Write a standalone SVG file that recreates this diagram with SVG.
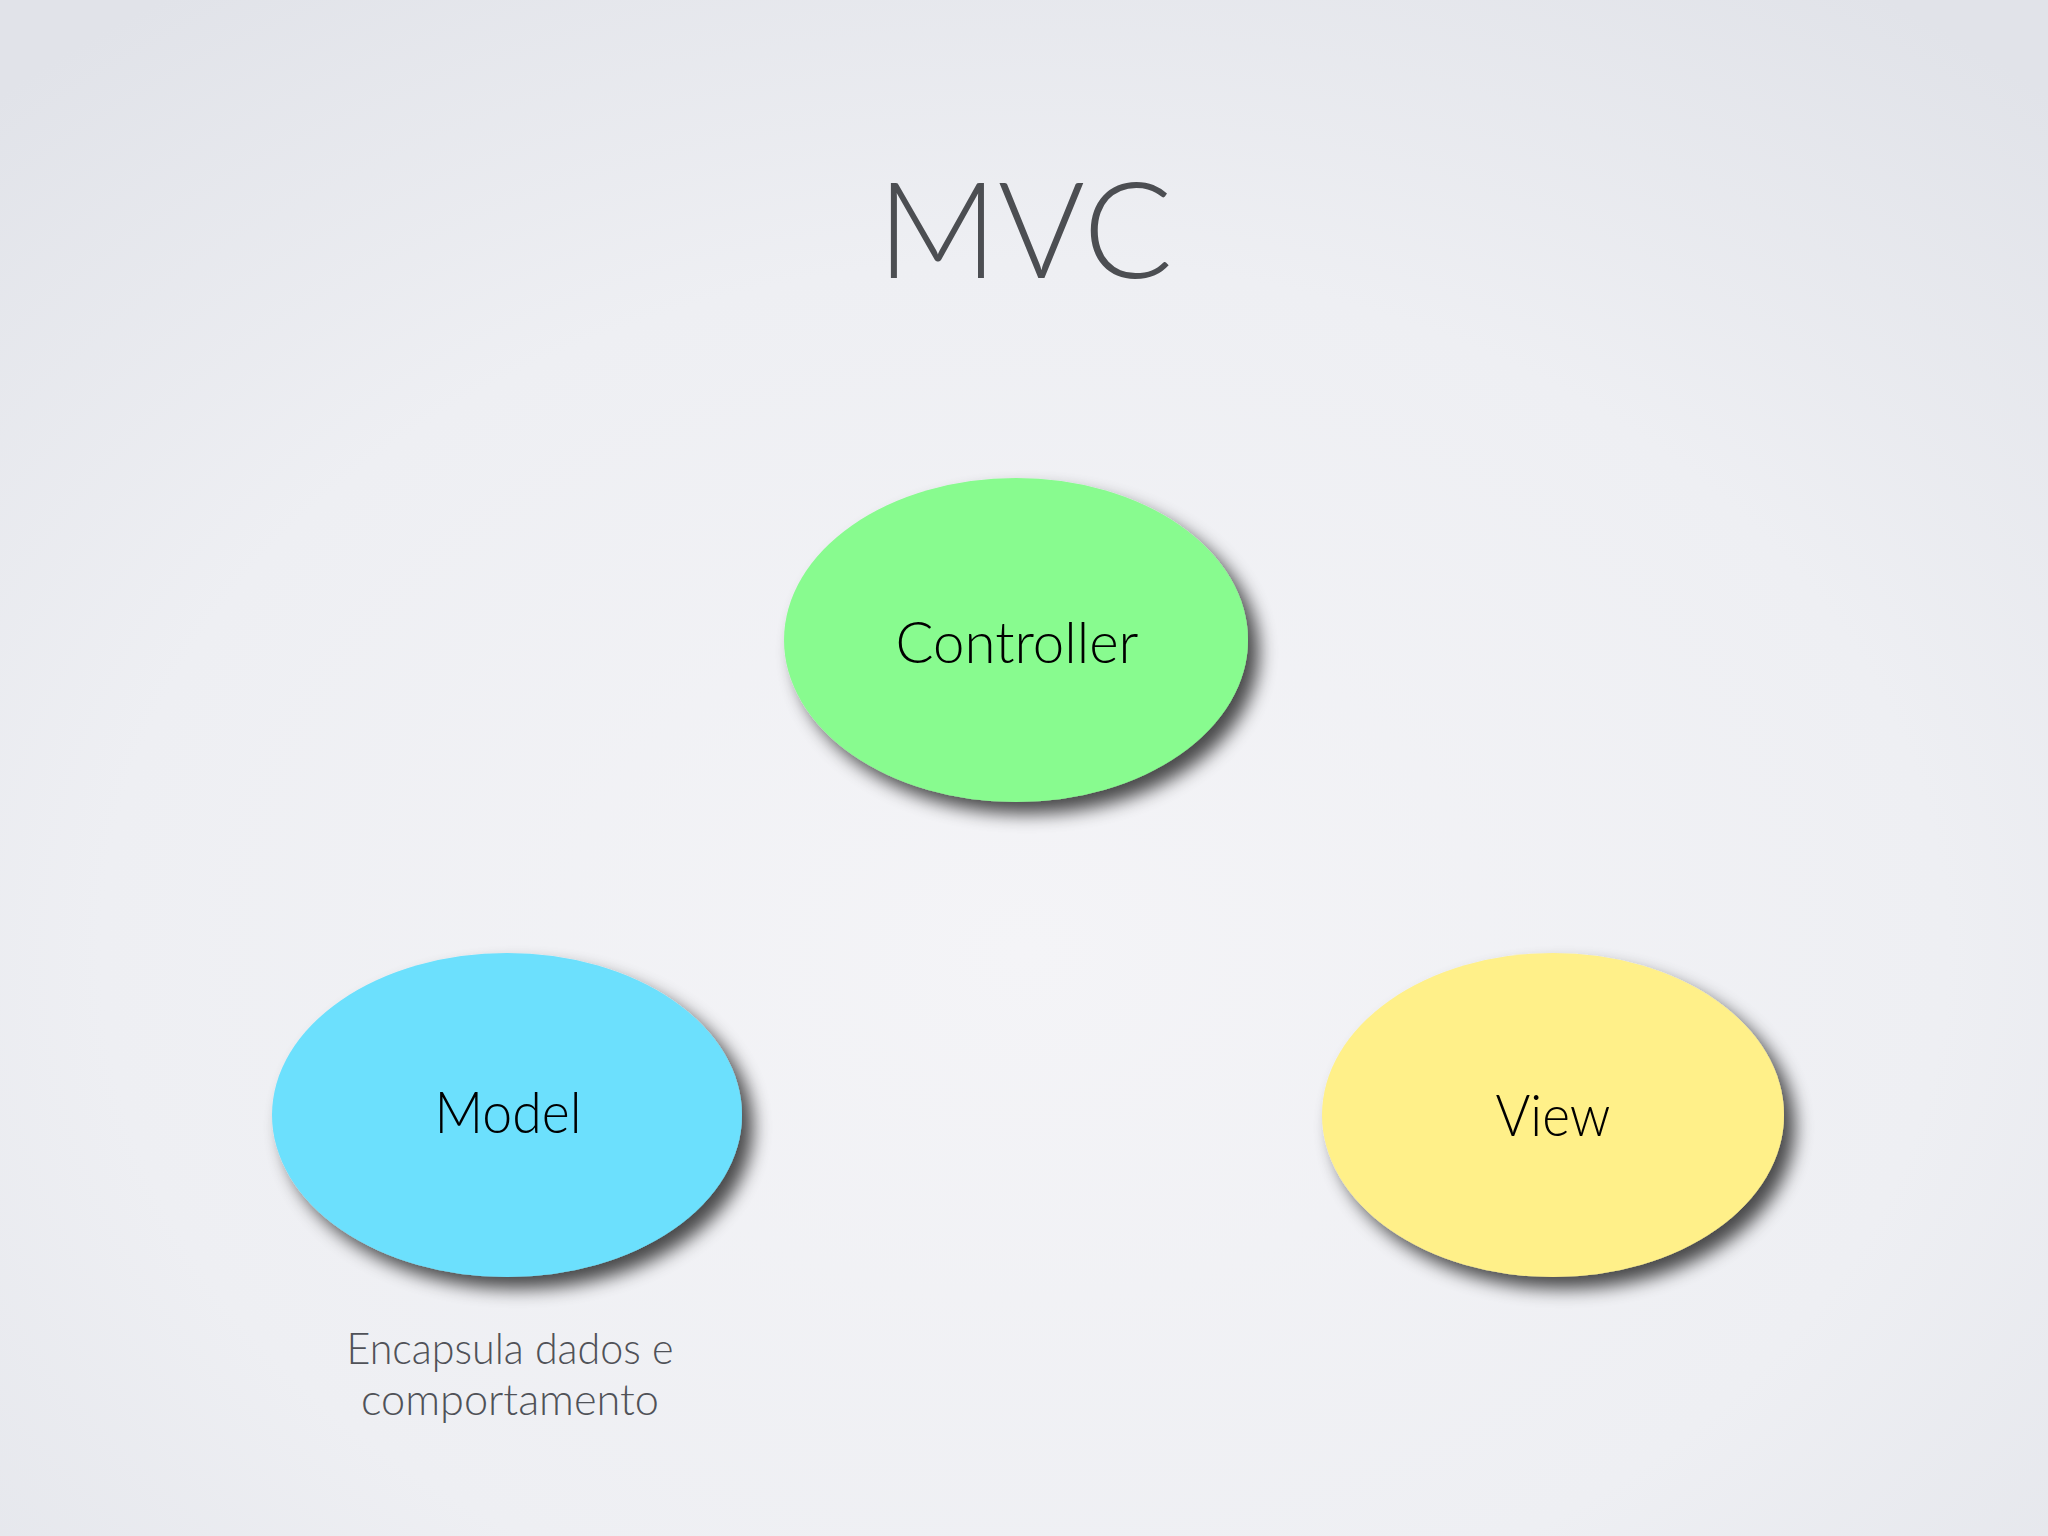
<svg xmlns="http://www.w3.org/2000/svg" width="2048" height="1536" viewBox="0 0 2048 1536">
<defs>
<radialGradient id="bg" cx="0.5" cy="0.62" r="0.75">
<stop offset="0" stop-color="#f4f4f7"/>
<stop offset="0.6" stop-color="#eeeff3"/>
<stop offset="1" stop-color="#e1e3e9"/>
</radialGradient>
<filter id="shadow" x="-20%" y="-20%" width="150%" height="150%">
<feGaussianBlur in="SourceAlpha" stdDeviation="9"/>
<feOffset dx="11" dy="12" result="b"/>
<feComponentTransfer><feFuncA type="linear" slope="0.7"/></feComponentTransfer>
<feMerge><feMergeNode/><feMergeNode in="SourceGraphic"/></feMerge>
</filter>
</defs>
<style>
.title{font-family:Lato,"Liberation Sans",sans-serif;font-weight:300;font-size:134px;fill:#4c4e52;text-anchor:middle}
.label{font-family:Lato,"Liberation Sans",sans-serif;font-weight:300;font-size:58px;fill:#000;text-anchor:middle}
.caption{font-family:Lato,"Liberation Sans",sans-serif;font-weight:300;font-size:43px;fill:#505258;text-anchor:middle}
.node{filter:url(#shadow)}
</style>
<rect width="2048" height="1536" fill="url(#bg)"/>
<text class="title" x="1025" y="278" textLength="296" lengthAdjust="spacingAndGlyphs">MVC</text>
<g id="connectors"></g>
<g id="controller">
<ellipse class="node" cx="1016" cy="640" rx="232" ry="162" fill="#88fb8f"/>
<text class="label" x="1017" y="663" textLength="243" lengthAdjust="spacingAndGlyphs">Controller</text>
</g>
<g id="model">
<ellipse class="node" cx="507" cy="1115" rx="235" ry="162" fill="#6ce0fd"/>
<text class="label" x="508" y="1133" textLength="147" lengthAdjust="spacingAndGlyphs">Model</text>
<text class="caption" x="510" y="1364" textLength="327" lengthAdjust="spacingAndGlyphs">Encapsula dados e</text>
<text class="caption" x="510" y="1415" textLength="298" lengthAdjust="spacingAndGlyphs">comportamento</text>
</g>
<g id="view">
<ellipse class="node" cx="1553" cy="1115" rx="231" ry="162" fill="#fff089"/>
<text class="label" x="1553" y="1136" textLength="115" lengthAdjust="spacingAndGlyphs">View</text>
</g>
</svg>
